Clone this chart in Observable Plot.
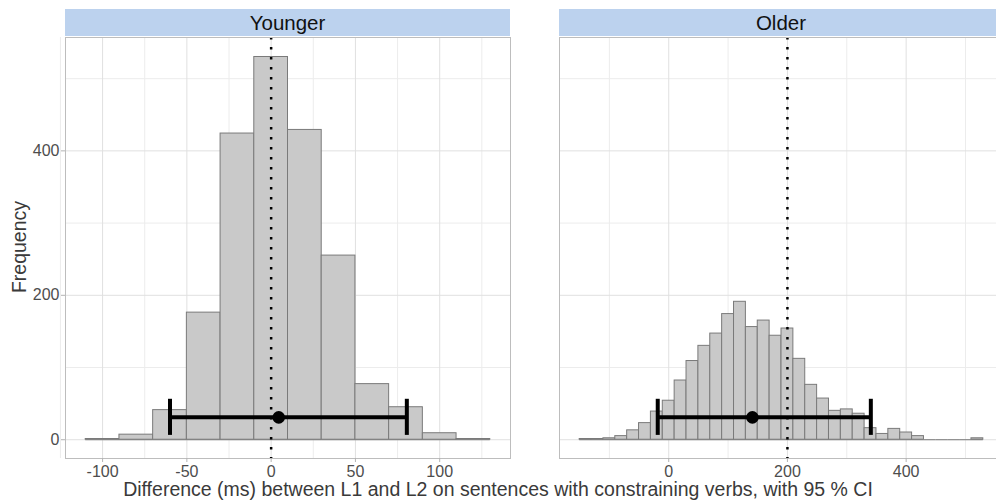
<!DOCTYPE html>
<html>
<head>
<meta charset="utf-8">
<script src="https://cdn.jsdelivr.net/npm/d3@7"></script>
<script src="https://cdn.jsdelivr.net/npm/@observablehq/plot@0.6"></script>
<style>
  html, body { margin: 0; padding: 0; background: #ffffff; }
  #chart { position: relative; width: 996px; height: 504px; overflow: hidden; font-family: "Liberation Sans", Arial, sans-serif; }
  #chart svg { position: absolute; top: 0; overflow: visible; }
  .strip { position: absolute; top: 9px; height: 27px; background: #BCD2EE; color: #111; font-size: 20.5px; line-height: 28px; text-align: center; }
  .xtitle { position: absolute; left: 0; width: 996px; top: 478px; text-align: center; font-size: 19.5px; color: #3a3a3a; white-space: nowrap; }
  .ytitle { position: absolute; left: 19px; top: 247px; transform: translate(-50%, -50%) rotate(-90deg); font-size: 19.5px; color: #3a3a3a; white-space: nowrap; }
</style>
</head>
<body>
<div id="chart"></div>
<script>
// ---- data ----
const panelNames = ["Younger", "Older"];
const binWidth = 20;

const youngerBinStart = [-110, -90, -70, -50, -30, -10, 10, 30, 50, 70, 90, 110];
const youngerCount    = [1, 7, 41, 176, 424, 530, 429, 255, 77, 45, 9, 1];

const olderBinStart = [-150, -130, -110, -90, -70, -50, -30, -10, 10, 30, 50, 70, 90, 110, 130, 150, 170,
                       190, 210, 230, 250, 270, 290, 310, 330, 350, 370, 390, 410, 430, 450, 470, 490, 510];
const olderCount    = [1, 1, 2, 5, 13, 23, 39, 54, 82, 109, 130, 147, 174, 191, 156, 165, 144,
                       154, 112, 76, 57, 40, 42, 36, 16, 8, 15, 10, 5, 0, 0, 0, 0, 2];

const youngerCI = {mean: 4.5, lo: -60, hi: 80.5};
const olderCI   = {mean: 141, lo: -18.5, hi: 340.5};
const youngerRef = 0;
const olderRef = 200;
const ciY = 31;      // vertical placement of the CI bar (count units)
const ciCap = 25;    // half-height of CI caps (count units)

const youngerXTicks = [-100, -50, 0, 50, 100];
const youngerXMinor = [-125, -75, -25, 25, 75, 125];
const olderXTicks = [0, 200, 400];
const olderXMinor = [-100, 100, 300, 500];
const yTicks = [0, 200, 400];
const yMinor = [100, 300, 500];

const youngerXDomain = [-122, 142];
const olderXDomain = [-184, 564];
const yDomain = [-26, 557];

// ---- drawing ----
const chart = document.getElementById("chart");

function makePanel(o) {
  const bins = o.starts.map((s, i) => ({x1: s, x2: s + binWidth, count: o.counts[i]}));
  const marks = [
    Plot.gridX(o.minor, {stroke: "#ECECEC", strokeOpacity: 1}),
    Plot.gridY(yMinor, {stroke: "#ECECEC", strokeOpacity: 1}),
    Plot.gridX(o.ticks, {stroke: "#E0E0E0", strokeOpacity: 1}),
    Plot.gridY(yTicks, {stroke: "#E0E0E0", strokeOpacity: 1}),
    Plot.ruleY(bins, {x1: "x1", x2: "x2", y: 0, stroke: "#7A7A7A", strokeWidth: 1}),
    Plot.rect(bins, {x1: "x1", x2: "x2", y1: 0, y2: "count", inset: 0, fill: "#C9C9C9", stroke: "#7A7A7A", strokeWidth: 1}),
    Plot.ruleX([o.ref], {stroke: "black", strokeWidth: 2.5, strokeDasharray: "2.5,7.5"}),
    Plot.ruleY([o.ci], {x1: "lo", x2: "hi", y: ciY, stroke: "black", strokeWidth: 4}),
    Plot.ruleX([o.ci.lo, o.ci.hi], {y1: ciY - ciCap, y2: ciY + ciCap, stroke: "black", strokeWidth: 4}),
    Plot.dot([o.ci], {x: "mean", y: ciY, r: 6.3, fill: "black", stroke: "none"}),
    Plot.frame({stroke: "#BDBDBD"}),
    Plot.axisX(o.ticks, {tickSize: 4, tickPadding: 3, stroke: "#B3B3B3", fill: "#4D4D4D", fontSize: 16, label: null, tickFormat: d => String(d)})
  ];
  if (o.showY) {
    marks.push(Plot.axisY(yTicks, {tickSize: 4, tickPadding: 2, stroke: "#B3B3B3", fill: "#4D4D4D", fontSize: 16, label: null, tickFormat: d => String(d)}));
  }
  const svg = Plot.plot({
    width: o.width,
    height: 504,
    marginTop: 37,
    marginBottom: 46,
    marginLeft: o.marginLeft,
    marginRight: o.marginRight,
    style: {fontFamily: "'Liberation Sans', Arial, sans-serif", fontSize: "16px", background: "transparent", overflow: "visible"},
    x: {domain: o.domain, axis: null},
    y: {domain: yDomain, axis: null},
    marks
  });
  svg.style.left = o.left + "px";
  chart.appendChild(svg);

  const strip = document.createElement("div");
  strip.className = "strip";
  strip.style.left = (o.left + o.marginLeft) + "px";
  strip.style.width = (o.width - o.marginLeft - o.marginRight) + "px";
  strip.textContent = o.name;
  chart.appendChild(strip);
}

makePanel({name: panelNames[0], starts: youngerBinStart, counts: youngerCount, ci: youngerCI, ref: youngerRef,
  ticks: youngerXTicks, minor: youngerXMinor, domain: youngerXDomain,
  left: 0, width: 515, marginLeft: 65, marginRight: 5, showY: true});
makePanel({name: panelNames[1], starts: olderBinStart, counts: olderCount, ci: olderCI, ref: olderRef,
  ticks: olderXTicks, minor: olderXMinor, domain: olderXDomain,
  left: 554, width: 449, marginLeft: 5, marginRight: 0, showY: false});

const xt = document.createElement("div");
xt.className = "xtitle";
xt.textContent = "Difference (ms) between L1 and L2 on sentences with constraining verbs, with 95 % CI";
chart.appendChild(xt);

const yt = document.createElement("div");
yt.className = "ytitle";
yt.textContent = "Frequency";
chart.appendChild(yt);
</script>
</body>
</html>
